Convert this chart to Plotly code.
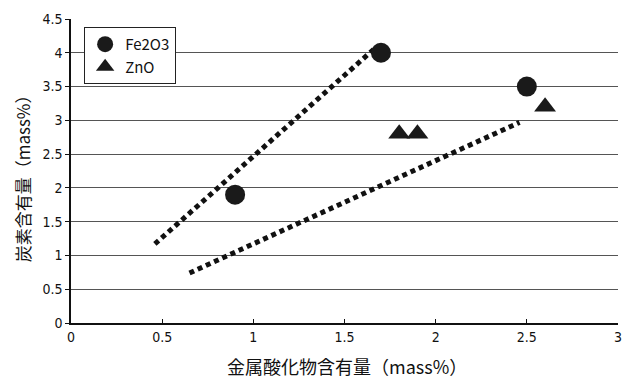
import plotly.graph_objects as go

# Measured points
fe_x = [0.9, 1.7, 2.5]
fe_y = [1.9, 4.0, 3.5]
zn_x = [1.8, 1.9, 2.6]
zn_y = [2.8, 2.8, 3.2]

# Hand-drawn trend lines (end points)
fe_trend_x = [0.46, 1.66]
fe_trend_y = [1.17, 4.05]
zn_trend_x = [0.65, 2.46]
zn_trend_y = [0.74, 2.97]

x_ticks = [0, 0.5, 1, 1.5, 2, 2.5, 3]
x_tick_text = ["0", "0.5", "1", "1.5", "2", "2.5", "3"]
y_ticks = [0, 0.5, 1, 1.5, 2, 2.5, 3, 3.5, 4, 4.5]
y_tick_text = ["0", "0.5", "1", "1.5", "2", "2.5", "3", "3.5", "4", "4.5"]

num_font = "Liberation Sans Narrow, DejaVu Sans Condensed, Arial, sans-serif"
jp_font = "Noto Sans CJK JP, sans-serif"

fig = go.Figure()

dot_line = dict(color="#111111", width=5, dash="5px,4px")
fig.add_trace(go.Scatter(x=fe_trend_x, y=fe_trend_y, mode="lines",
                         line=dot_line, showlegend=False, hoverinfo="skip"))
fig.add_trace(go.Scatter(x=zn_trend_x, y=zn_trend_y, mode="lines",
                         line=dot_line, showlegend=False, hoverinfo="skip"))

fig.add_trace(go.Scatter(x=fe_x, y=fe_y, mode="markers", name="Fe2O3",
                         marker=dict(symbol="circle", size=20, color="#1a1a1a")))
fig.add_trace(go.Scatter(x=zn_x, y=zn_y, mode="markers", name="ZnO",
                         marker=dict(symbol="triangle-up", size=19, color="#1a1a1a")))

fig.update_layout(
    width=624, height=382,
    margin=dict(l=71, r=6, t=19, b=59, autoexpand=False),
    paper_bgcolor="white", plot_bgcolor="white",
    font=dict(family=num_font, size=14, color="#111111"),
    legend=dict(x=0.024, y=0.974, xanchor="left", yanchor="top",
                bgcolor="white", bordercolor="#222222", borderwidth=1,
                font=dict(family=jp_font, size=15, color="#111111"),
                itemwidth=30, tracegroupgap=2),
    annotations=[
        dict(text="金属酸化物含有量（mass%）", xref="paper", yref="paper",
             x=0.504, y=-0.192, xanchor="center", yanchor="bottom", showarrow=False,
             font=dict(family=jp_font, size=18, color="#111111")),
        dict(text="炭素含有量（mass%）", xref="paper", yref="paper",
             x=-0.089, y=0.49, xanchor="center", yanchor="middle", showarrow=False,
             textangle=-90,
             font=dict(family=jp_font, size=17, color="#111111")),
    ],
)

fig.update_xaxes(range=[0, 3], tickvals=x_ticks, ticktext=x_tick_text,
                 showgrid=False, zeroline=False, automargin=False,
                 showline=True, linecolor="#111111", linewidth=1.5,
                 ticks="inside", ticklen=4, tickcolor="#111111",
                 tickfont=dict(family=num_font, size=14))
fig.update_yaxes(range=[0, 4.5], tickvals=y_ticks, ticktext=y_tick_text,
                 showgrid=True, gridcolor="#555555", gridwidth=1, zeroline=False,
                 showline=True, linecolor="#111111", linewidth=1.5,
                 ticks="outside", ticklen=4, tickcolor="#111111",
                 tickfont=dict(family=num_font, size=14))

fig.write_html("out.html")
